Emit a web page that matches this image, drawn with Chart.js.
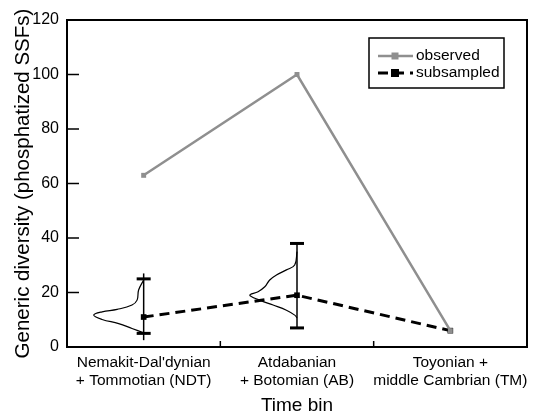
<!DOCTYPE html>
<html>
<head>
<meta charset="utf-8">
<script src="https://cdn.jsdelivr.net/npm/chart.js@4/dist/chart.umd.min.js"></script>
<style>
  body { margin: 0; background: #fff; }
  #wrap { width: 535px; height: 415px; }
</style>
</head>
<body>
<div id="wrap"><canvas id="grafico" width="535" height="415"></canvas></div>
<script>
const FUENTE = "'Liberation Sans', Arial, Helvetica, sans-serif";

// categorias (bins de tiempo)
const categorias = [
    ["Nemakit-Dal'dynian", "+ Tommotian (NDT)"],
    ["Atdabanian", "+ Botomian (AB)"],
    ["Toyonian +", "middle Cambrian (TM)"]
];
const posiciones = [0, 1, 2];

// series
const observado = [63, 100, 6];
const submuestreado = [11, 19, 6];

// barras de error del submuestreo
const errorMin = [5, 7, null];
const errorMax = [25, 38, null];
const rangoMin = [2.5, 7, null];
const rangoMax = [27, 38, null];

// curvas de densidad (valor y, ancho hacia la izquierda en unidades del eje x)
const densNdtY = [24.6, 20.9, 17.2, 15.4, 13.8, 12.9, 11.7, 10.1, 8.6, 6.8, 5.2];
const densNdtW = [0, 0.033, 0.043, 0.076, 0.173, 0.271, 0.326, 0.271, 0.163, 0.076, 0];
const densAbY = [35, 30.1, 28.3, 26.4, 24.6, 22.1, 20.3, 19, 17.2, 15.4, 13.5, 11.7, 10.7];
const densAbW = [0, 0.015, 0.069, 0.134, 0.178, 0.210, 0.254, 0.308, 0.243, 0.156, 0.069, 0.015, 0];

// ticks
const ticksY = [20, 40, 60, 80, 100];
const ticksX = [0.5, 1.5];

const GRIS = "#8f8f8f";

function curva(centro, ys, ws) {
    return ys.map((y, i) => ({ x: centro - ws[i], y }));
}

// barras de error debajo de los puntos
const barrasError = {
    id: "barrasError",
    beforeDatasetsDraw(chart) {
        const { ctx, scales: { x, y } } = chart;
        ctx.save();
        ctx.strokeStyle = "#000";
        posiciones.forEach((p, i) => {
            if (errorMin[i] === null) return;
            const px = x.getPixelForValue(p);
            ctx.lineWidth = 1.5;
            ctx.beginPath();
            ctx.moveTo(px, y.getPixelForValue(rangoMin[i]));
            ctx.lineTo(px, y.getPixelForValue(rangoMax[i]));
            ctx.stroke();
            ctx.lineWidth = 3;
            [errorMin[i], errorMax[i]].forEach(v => {
                const py = y.getPixelForValue(v);
                ctx.beginPath();
                ctx.moveTo(px - 7, py);
                ctx.lineTo(px + 7, py);
                ctx.stroke();
            });
        });
        ctx.restore();
    }
};

// marco, ticks hacia adentro y leyenda
const marcoYLeyenda = {
    id: "marcoYLeyenda",
    afterDraw(chart) {
        const { ctx, chartArea: a, scales: { x, y } } = chart;
        ctx.save();
        ctx.strokeStyle = "#000";
        ctx.lineWidth = 2;
        ctx.strokeRect(a.left, a.top, a.right - a.left, a.bottom - a.top);

        ctx.lineWidth = 1.5;
        ticksY.forEach(v => {
            const py = y.getPixelForValue(v);
            ctx.beginPath();
            ctx.moveTo(a.left, py);
            ctx.lineTo(a.left + 12, py);
            ctx.stroke();
        });
        ticksX.forEach(v => {
            const px = x.getPixelForValue(v);
            ctx.beginPath();
            ctx.moveTo(px, a.bottom);
            ctx.lineTo(px, a.bottom - 6);
            ctx.stroke();
        });

        // leyenda
        const lx = a.right - 158, ly = a.top + 18;
        ctx.lineWidth = 1.5;
        ctx.strokeRect(lx, ly, 135, 50);
        const items = chart.data.datasets.slice(0, 2);
        items.forEach((ds, i) => {
            const cy = ly + 18 + i * 17;
            ctx.strokeStyle = ds.borderColor;
            ctx.lineWidth = ds.borderWidth;
            ctx.setLineDash(ds.borderDash || []);
            ctx.beginPath();
            ctx.moveTo(lx + 9, cy);
            ctx.lineTo(lx + 44, cy);
            ctx.stroke();
            ctx.setLineDash([]);
            ctx.fillStyle = ds.pointBackgroundColor;
            const r = ds.pointRadius;
            ctx.fillRect(lx + 26 - r, cy - r, r * 2, r * 2);
            ctx.fillStyle = "#000";
            ctx.font = "15.5px " + FUENTE;
            ctx.textBaseline = "middle";
            ctx.textAlign = "left";
            ctx.fillText(ds.label, lx + 47, cy);
        });
        ctx.restore();
    }
};

const ctx = document.getElementById("grafico").getContext("2d");
const grafico = new Chart(ctx, {
    type: "line",
    data: {
        datasets: [
            {
                label: "observed",
                data: posiciones.map((p, i) => ({ x: p, y: observado[i] })),
                borderColor: GRIS,
                borderWidth: 2.5,
                pointStyle: "rect",
                pointRadius: 3.5,
                pointBackgroundColor: GRIS,
                pointBorderWidth: 0,
                tension: 0
            },
            {
                label: "subsampled",
                data: posiciones.map((p, i) => ({ x: p, y: submuestreado[i] })),
                borderColor: "#000",
                borderWidth: 3,
                borderDash: [10, 6],
                pointStyle: "rect",
                pointRadius: 4,
                pointBackgroundColor: "#000",
                pointBorderWidth: 0,
                tension: 0
            },
            {
                label: "densidad NDT",
                data: curva(posiciones[0], densNdtY, densNdtW),
                borderColor: "#000",
                borderWidth: 1.2,
                pointRadius: 0,
                tension: 0.4
            },
            {
                label: "densidad AB",
                data: curva(posiciones[1], densAbY, densAbW),
                borderColor: "#000",
                borderWidth: 1.2,
                pointRadius: 0,
                tension: 0.4
            }
        ]
    },
    options: {
        responsive: false,
        animation: false,
        layout: { padding: { top: 20, right: 8, left: 0, bottom: 0 } },
        plugins: { legend: { display: false }, tooltip: { enabled: false } },
        scales: {
            x: {
                type: "linear",
                min: -0.5,
                max: 2.5,
                afterBuildTicks: scale => { scale.ticks = posiciones.map(v => ({ value: v })); },
                afterFit: scale => { scale.height = 68; },
                grid: { display: false, drawTicks: false },
                border: { display: false },
                ticks: {
                    autoSkip: false,
                    maxRotation: 0,
                    padding: 6,
                    color: "#000",
                    font: { family: FUENTE, size: 15.5, lineHeight: 1.2 },
                    callback: v => categorias[v]
                },
                title: {
                    display: true,
                    text: "Time bin",
                    color: "#000",
                    font: { family: FUENTE, size: 19, lineHeight: 1 },
                    padding: { top: 0, bottom: 0 }
                }
            },
            y: {
                min: 0,
                max: 120,
                afterFit: scale => { scale.width = 67; },
                grid: { display: false, drawTicks: false },
                border: { display: false },
                ticks: {
                    stepSize: 20,
                    padding: 8,
                    color: "#000",
                    font: { family: FUENTE, size: 16 }
                },
                title: {
                    display: true,
                    text: "Generic diversity (phosphatized SSFs)",
                    color: "#000",
                    font: { family: FUENTE, size: 20.5 },
                    padding: { top: 11, bottom: 0 }
                }
            }
        }
    },
    plugins: [barrasError, marcoYLeyenda]
});
</script>
</body>
</html>
